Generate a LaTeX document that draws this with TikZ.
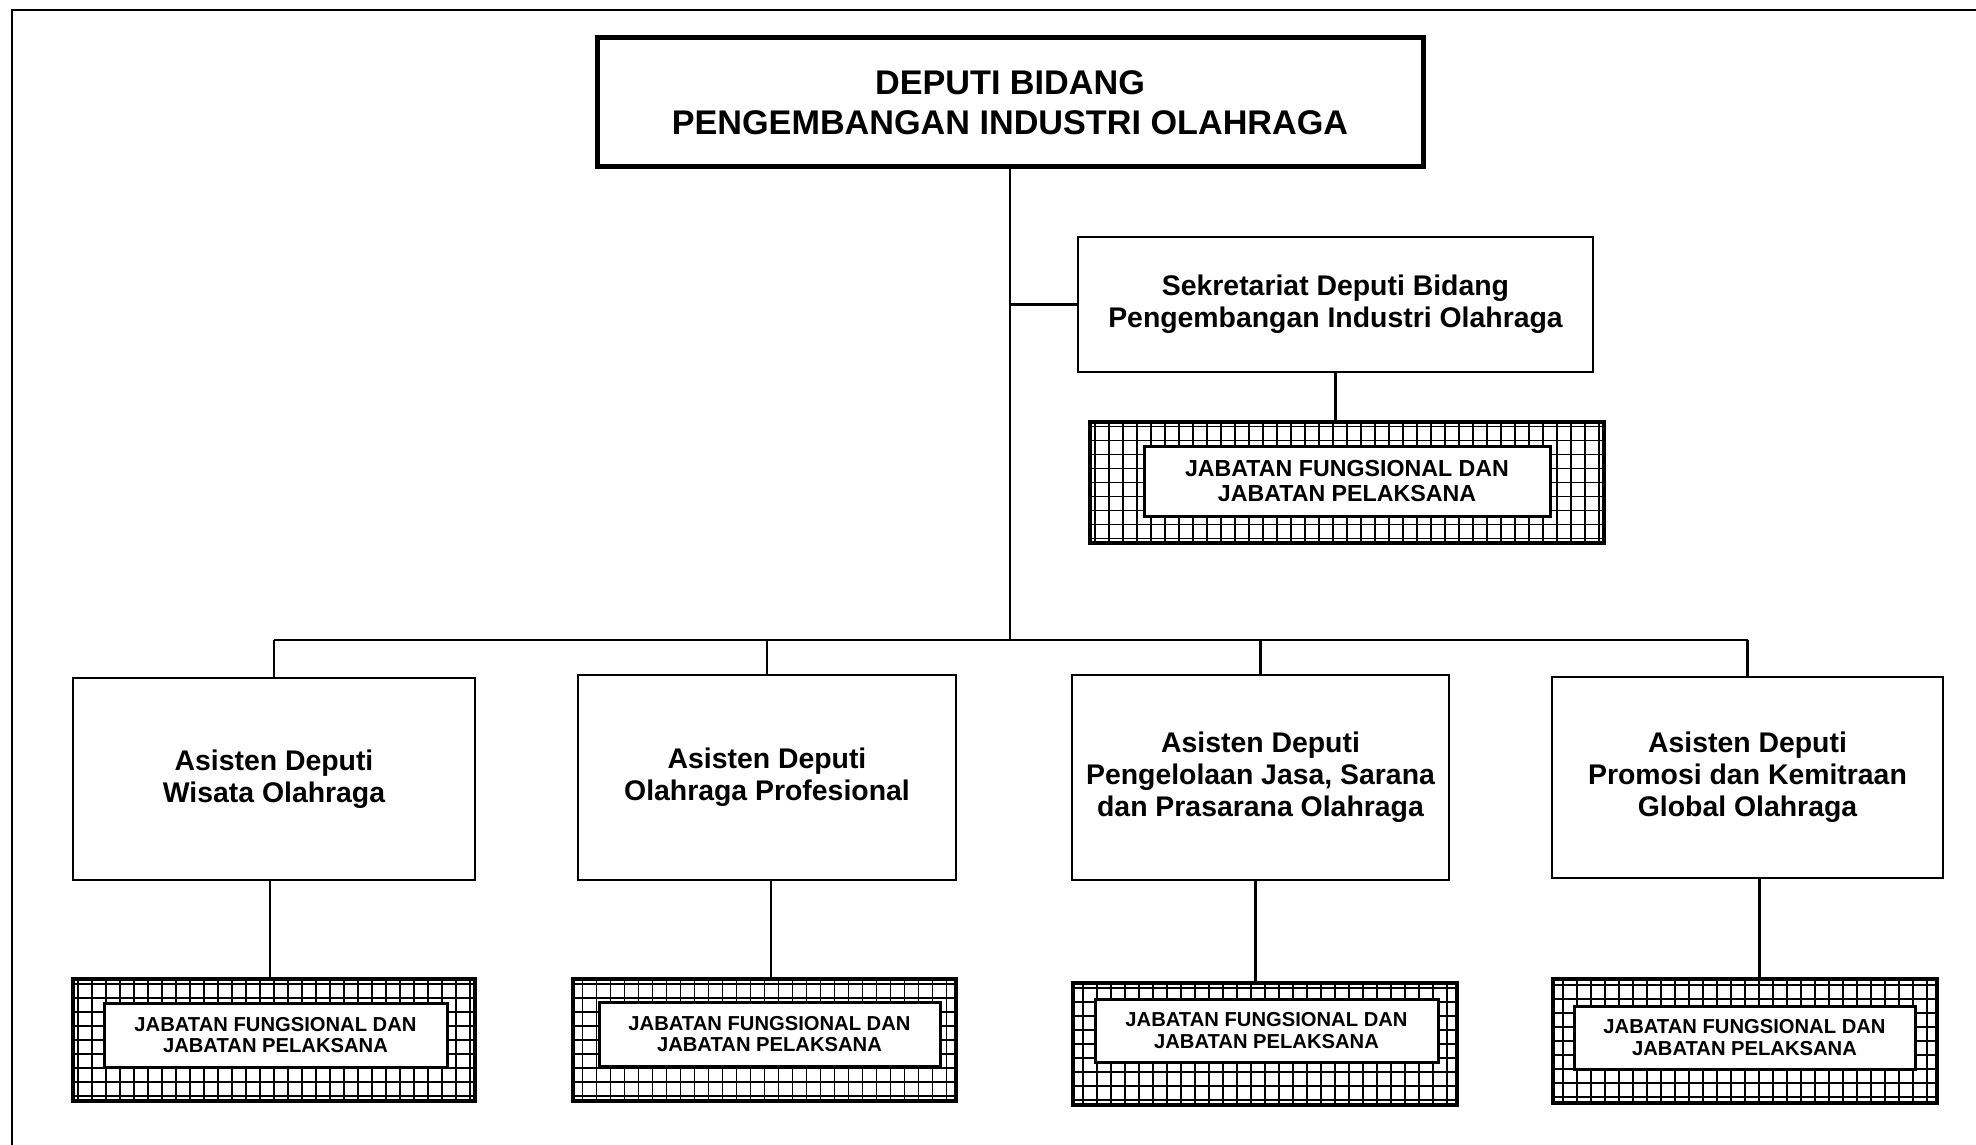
\documentclass[tikz,border=0pt]{standalone}
\usepackage{fontspec}
\setmainfont{Liberation Sans}
\begin{document}
\begin{tikzpicture}[x=0.5pt,y=-0.5pt,
  span/.style args={#1/#2/#3/#4}{anchor=center,
    minimum width={(#3-#1)*0.5pt}, minimum height={(#4-#2)*0.5pt},
    at={({(#1+#3)/2},{(#2+#4)/2})}},
  unit/.style={draw, line width=1.4pt, fill=white, inner sep=0pt, align=center,
    font=\fontsize{14.2}{16}\selectfont\bfseries},
  headbox/.style={unit, line width=2.5pt,
    font=\fontsize{17.1}{19.75}\selectfont\bfseries},
  gridbox/.style={draw, line width=1.8pt, inner sep=0pt,
    path picture={\draw[line width=0.6pt]
      ([shift={(-7pt,-7pt)}]path picture bounding box.south west)
      grid[step=7pt]
      ([shift={(7pt,7pt)}]path picture bounding box.north east);}},
  tagbox/.style={draw, line width=1.5pt, fill=white, inner sep=0pt, align=center,
    font=\fontsize{10.1}{10.6}\selectfont\bfseries},
  link/.style={line width=1.2pt}]

\useasboundingbox (0,0) rectangle (1976,1145);

% page frame
\draw[line width=1.3pt] (12,1145) -- (12,10) -- (1976,10);

% head of the unit
\node[headbox, span=597/38/1423/167] (top)
  {DEPUTI BIDANG\\PENGEMBANGAN INDUSTRI OLAHRAGA};

% secretariat
\node[unit, span=1078/237/1593/372] (sek)
  {Sekretariat Deputi Bidang\\Pengembangan Industri Olahraga};
\node[gridbox, span=1090/422/1604/543] (sg) {};
\node[tagbox, font=\fontsize{11.6}{12.8}\selectfont\bfseries,
  span=1144/446/1550/516] (sj)
  {JABATAN FUNGSIONAL DAN\\JABATAN PELAKSANA};

% assistant deputies
\node[unit, span=73/678/475/880] (a1)
  {Asisten Deputi\\Wisata Olahraga};
\node[unit, span=578/675/956/880] (a2)
  {Asisten Deputi\\Olahraga Profesional};
\node[unit, span=1072/675/1449/880] (a3)
  {Asisten Deputi\\Pengelolaan Jasa, Sarana\\dan Prasarana Olahraga};
\node[unit, span=1552/677/1943/878] (a4)
  {Asisten Deputi\\Promosi dan Kemitraan\\Global Olahraga};

% functional positions under each assistant deputy
\node[gridbox, span=73/979/475/1101] (g1) {};
\node[tagbox, span=104/1003/447/1067] (j1)
  {JABATAN FUNGSIONAL DAN\\JABATAN PELAKSANA};
\node[gridbox, span=573/979/956/1101] (g2) {};
\node[tagbox, span=599/1002/940/1066] (j2)
  {JABATAN FUNGSIONAL DAN\\JABATAN PELAKSANA};
\node[gridbox, span=1073/983/1457/1105] (g3) {};
\node[tagbox, span=1095/999/1438/1062] (j3)
  {JABATAN FUNGSIONAL DAN\\JABATAN PELAKSANA};
\node[gridbox, span=1553/979/1937/1103] (g4) {};
\node[tagbox, span=1574/1006/1915/1069] (j4)
  {JABATAN FUNGSIONAL DAN\\JABATAN PELAKSANA};

% connectors
\coordinate (bus) at (1013,640);
\draw[link] (top.south) -- (top.south |- bus);
\draw[link] (top.south |- sek.west) -- (sek.west);
\draw[link] (sek.south) -- (sek.south |- sg.north);
\draw[link] (a1.north |- bus) -- (a4.north |- bus);
\foreach \i in {1,...,4}
  \draw[link] (a\i.north |- bus) -- (a\i.north);
\draw[link] ([xshift=-2pt]a1.south) -- ([xshift=-2pt]a1.south |- g1.north);
\draw[link] ([xshift=2pt]a2.south) -- ([xshift=2pt]a2.south |- g2.north);
\draw[link] ([xshift=-2.5pt]a3.south) -- ([xshift=-2.5pt]a3.south |- g3.north);
\draw[link] ([xshift=6pt]a4.south) -- ([xshift=6pt]a4.south |- g4.north);

\end{tikzpicture}
\end{document}
